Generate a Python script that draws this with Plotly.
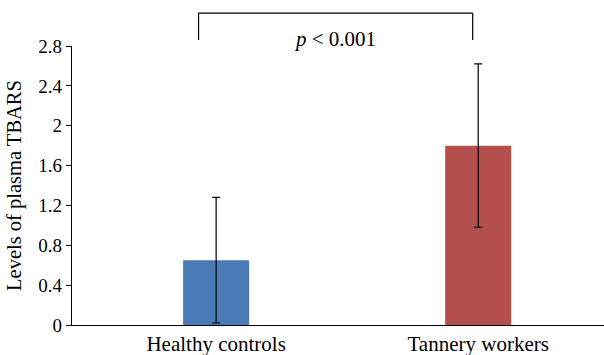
import plotly.graph_objects as go

categories = ["Healthy controls", "Tannery workers"]
means = [0.65, 1.80]
errors = [0.63, 0.82]
colors = ["#4A7BB6", "#B54F4D"]
y_ticks = [0, 0.4, 0.8, 1.2, 1.6, 2.0, 2.4, 2.8]
y_tick_labels = ["0", "0.4", "0.8", "1.2", "1.6", "2", "2.4", "2.8"]
p_label = "<i>p</i> < 0.001"

font_family = "Liberation Serif"
xpos = list(range(len(categories)))

fig = go.Figure()
fig.add_trace(go.Bar(
    x=xpos, y=means, width=0.252,
    marker=dict(color=colors, line=dict(width=0)),
    error_y=dict(type="data", array=errors, visible=True,
                 color="black", thickness=1.2, width=4),
    showlegend=False,
))

ymax = 2.8
top = 3.13 / ymax
low = 2.86 / ymax
xl, xr = -0.067, 0.979
for (x0, x1, y0, y1) in [(xl, xr, top, top), (xl, xl, top, low), (xr, xr, top, low)]:
    fig.add_shape(type="line", xref="x", yref="paper", x0=x0, x1=x1, y0=y0, y1=y1,
                  line=dict(color="black", width=1.2))
fig.add_annotation(x=0.454, y=2.87 / ymax, xref="x", yref="paper",
                   text=p_label, showarrow=False,
                   font=dict(family=font_family, size=21, color="black"),
                   yanchor="middle")

fig.update_layout(
    width=604, height=355,
    margin=dict(l=72, r=0, t=46, b=30),
    paper_bgcolor="white", plot_bgcolor="white",
    font=dict(family=font_family, size=19, color="black"),
    xaxis=dict(
        range=[-0.55, 1.48], automargin=False,
        tickmode="array", tickvals=xpos, ticktext=categories,
        showline=True, linecolor="black", linewidth=1.2,
        ticks="", showgrid=False, zeroline=False,
        tickfont=dict(family=font_family, size=21),
    ),
    yaxis=dict(
        range=[0, ymax], automargin=False,
        tickmode="array", tickvals=y_ticks, ticktext=y_tick_labels,
        showline=True, linecolor="black", linewidth=1.2,
        ticks="outside", ticklen=5, tickcolor="black", tickwidth=1.2,
        showgrid=False, zeroline=False,
        tickfont=dict(family=font_family, size=19),
        title=dict(text="Levels of plasma TBARS",
                   font=dict(family=font_family, size=20.5), standoff=11),
    ),
)

fig.write_html("out.html", config={"displayModeBar": False},
               post_script="document.body.style.margin='0';document.body.style.overflow='hidden';")
